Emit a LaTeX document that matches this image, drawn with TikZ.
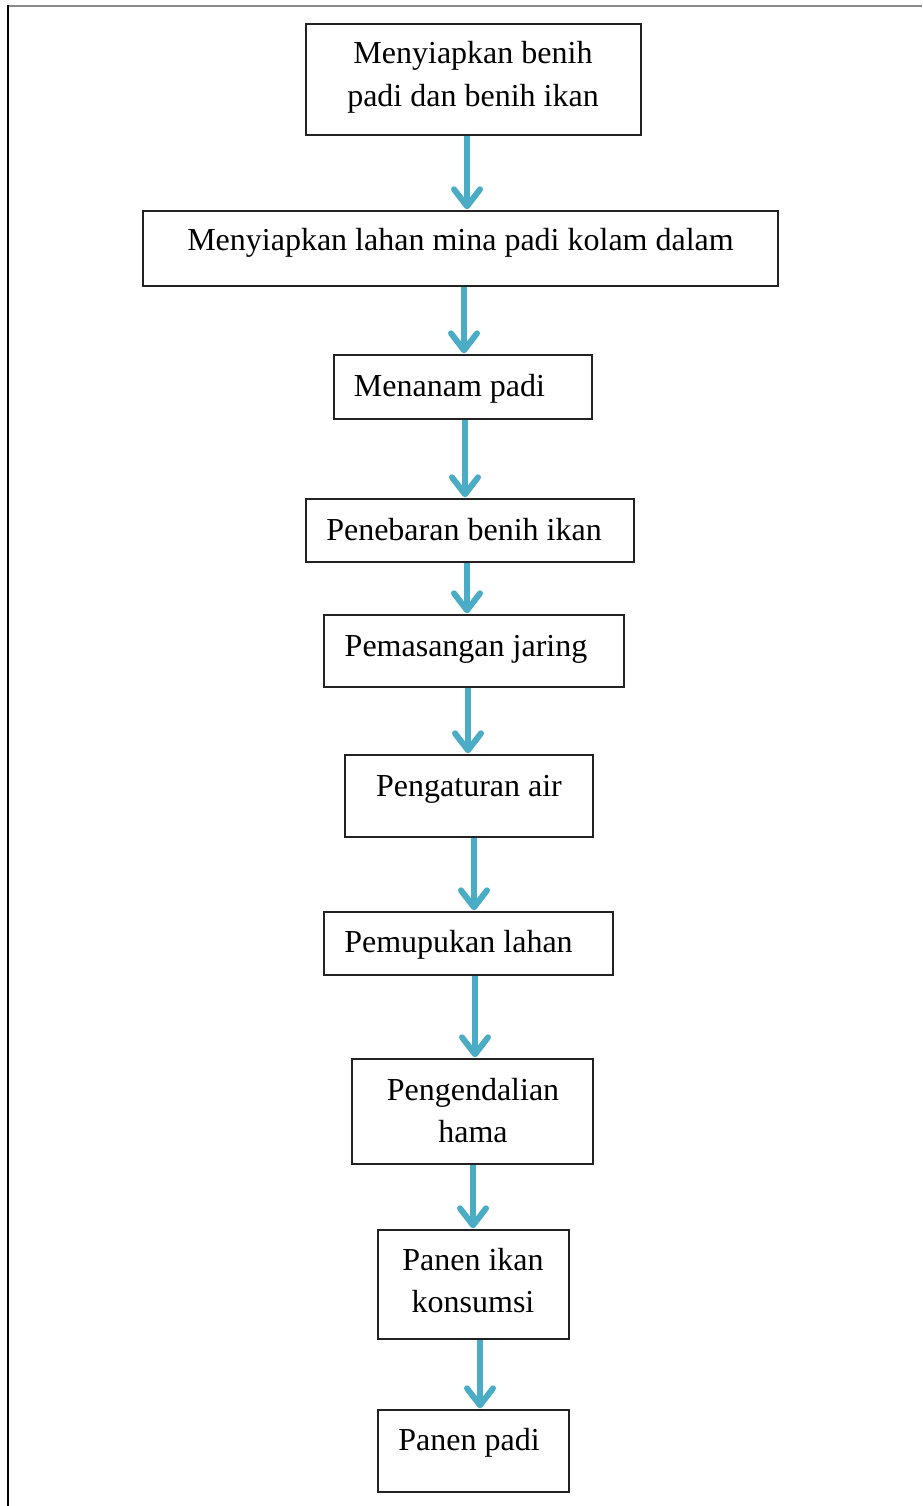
\documentclass[tikz,border=0pt]{standalone}
\usepackage{fontspec}
\setmainfont{Liberation Serif}
\usetikzlibrary{arrows.meta}
\definecolor{flowblue}{HTML}{4BACC6}
\definecolor{boxline}{HTML}{222222}
\definecolor{rulegray}{HTML}{8A8A8A}
\tikzset{
  stepbox/.style={draw=boxline, line width=1.4pt, fill=white, inner sep=0pt},
  steptext/.style={anchor=base, inner sep=0pt, font=\fontsize{32}{43}\selectfont},
  flow/.style={draw=flowblue, line width=6pt,
    -{Straight Barb[length=17pt,width=26pt,round]}, shorten >=1pt}
}
\begin{document}
\begin{tikzpicture}[x=1pt,y=-1pt]
\useasboundingbox (0,0) rectangle (922,1506);
% page frame: top and left edges
\draw[rulegray, line width=2pt] (8,6) -- (922,6);
\draw[black, line width=2pt] (8,5) -- (8,1506);

% step boxes
\node[stepbox, minimum width=335pt, minimum height=111pt] (b1) at (473.5,79.5) {};
\node[stepbox, minimum width=635pt, minimum height=75pt] (b2) at (460.5,248.5) {};
\node[stepbox, minimum width=258pt, minimum height=64pt] (b3) at (463,387) {};
\node[stepbox, minimum width=328pt, minimum height=63pt] (b4) at (470,530.5) {};
\node[stepbox, minimum width=300pt, minimum height=72pt] (b5) at (474,651) {};
\node[stepbox, minimum width=248pt, minimum height=82pt] (b6) at (469,796) {};
\node[stepbox, minimum width=289pt, minimum height=63pt] (b7) at (468.5,943.5) {};
\node[stepbox, minimum width=241pt, minimum height=105pt] (b8) at (472.5,1111.5) {};
\node[stepbox, minimum width=191pt, minimum height=109pt] (b9) at (473.5,1284.5) {};
\node[stepbox, minimum width=191pt, minimum height=82pt] (b10) at (473.5,1451) {};

% step labels
\node[steptext] (t1a) at (473,64) {Menyiapkan benih};
\node[steptext] (t1b) at (473,107) {padi dan benih ikan};
\node[steptext] (t2) at (460.5,251) {Menyiapkan lahan mina padi kolam dalam};
\node[steptext] (t3) at (449.5,396) {Menanam padi};
\node[steptext] (t4) at (464,540) {Penebaran benih ikan};
\node[steptext] (t5) at (466,656) {Pemasangan jaring};
\node[steptext] (t6) at (469,796) {Pengaturan air};
\node[steptext] (t7) at (458.5,952) {Pemupukan lahan};
\node[steptext] (t8a) at (473,1100) {Pengendalian};
\node[steptext] (t8b) at (473,1142) {hama};
\node[steptext] (t9a) at (473,1270) {Panen ikan};
\node[steptext] (t9b) at (473,1312) {konsumsi};
\node[steptext] (t10) at (469,1450) {Panen padi};

% arrow columns
\coordinate (x1) at (467,0);
\coordinate (x2) at (464,0);
\coordinate (x3) at (465,0);
\coordinate (x4) at (467,0);
\coordinate (x5) at (468,0);
\coordinate (x6) at (474,0);
\coordinate (x7) at (475,0);
\coordinate (x8) at (473,0);
\coordinate (x9) at (480,0);

% connectors
\draw[flow] (b1.south -| x1) -- (b2.north -| x1);
\draw[flow] (b2.south -| x2) -- (b3.north -| x2);
\draw[flow] (b3.south -| x3) -- (b4.north -| x3);
\draw[flow] (b4.south -| x4) -- (b5.north -| x4);
\draw[flow] (b5.south -| x5) -- (b6.north -| x5);
\draw[flow] (b6.south -| x6) -- (b7.north -| x6);
\draw[flow] (b7.south -| x7) -- (b8.north -| x7);
\draw[flow] (b8.south -| x8) -- (b9.north -| x8);
\draw[flow] (b9.south -| x9) -- (b10.north -| x9);
\end{tikzpicture}
\end{document}
